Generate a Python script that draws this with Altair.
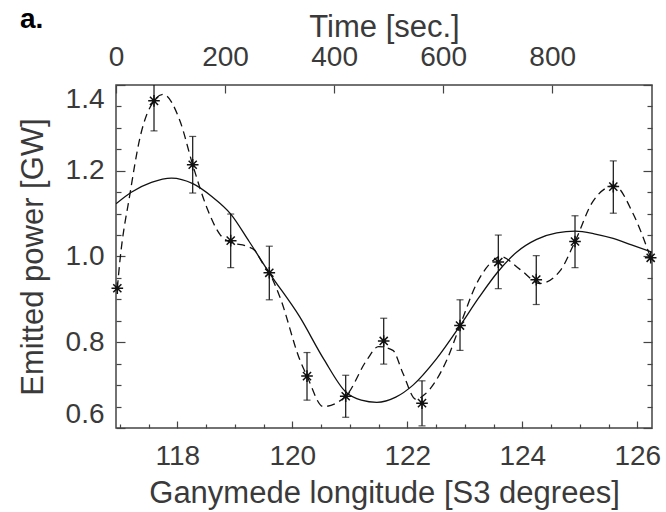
import altair as alt
import pandas as pd

# ---- data ----
pt_lon = [116.957, 117.595, 118.268, 118.929, 119.600, 120.256, 120.929, 121.590,
          122.256, 122.917, 123.583, 124.243, 124.917, 125.583, 126.233]
pt_val = [0.926, 1.363, 1.214, 1.037, 0.962, 0.721, 0.674, 0.803,
          0.658, 0.839, 0.987, 0.946, 1.035, 1.163, 0.997]
err_lo = [None, 1.293, 1.148, 0.974, 0.899, 0.665, 0.625, 0.749,
          0.605, 0.781, 0.925, 0.888, 0.974, 1.101, None]
err_hi = [None, 1.433, 1.280, 1.099, 1.024, 0.776, 0.723, 0.856,
          0.710, 0.899, 1.050, 1.002, 1.095, 1.223, None]

fit_lon = [116.934, 117.20, 117.55, 117.90, 118.27, 118.60, 118.93, 119.25, 119.60,
           120.13, 120.55, 120.93, 121.20, 121.47, 121.80, 122.10, 122.50, 122.92,
           123.25, 123.58, 123.90, 124.25, 124.60, 124.92, 125.25, 125.58, 125.90, 126.256]
fit_val = [1.123, 1.150, 1.173, 1.183, 1.170, 1.140, 1.099, 1.035, 0.962,
           0.859, 0.760, 0.684, 0.665, 0.660, 0.672, 0.700, 0.760, 0.839,
           0.905, 0.965, 1.010, 1.040, 1.055, 1.059, 1.053, 1.042, 1.027, 1.010]

dash_lon = [116.957, 117.003, 117.177, 117.351, 117.595, 117.757, 118.047, 118.268,
            118.511, 118.75, 118.929, 119.207, 119.35, 119.48, 119.600, 119.786,
            120.134, 120.256, 120.539, 120.929, 121.294, 121.50, 121.75, 121.92,
            122.15, 122.30, 122.685, 122.917, 123.207, 123.45, 123.62, 123.96,
            124.31, 124.66, 124.917, 125.235, 125.60, 125.93, 126.233]
dash_val = [0.926, 0.991, 1.146, 1.277, 1.363, 1.378, 1.316, 1.214,
            1.115, 1.050, 1.033, 1.024, 1.014, 0.985, 0.962, 0.905,
            0.758, 0.721, 0.650, 0.674, 0.758, 0.790, 0.781, 0.729,
            0.667, 0.678, 0.758, 0.839, 0.937, 0.985, 1.000, 0.970,
            0.937, 0.967, 1.035, 1.130, 1.165, 1.099, 0.997]

x_major = [118, 120, 122, 124, 126]
x_minor = [117.0, 117.5, 118.5, 119.0, 119.5, 120.5, 121.0, 121.5, 122.5,
           123.0, 123.5, 124.5, 125.0, 125.5]
y_major = [0.6, 0.8, 1.0, 1.2, 1.4]
y_minor = [0.65, 0.7, 0.75, 0.85, 0.9, 0.95, 1.05, 1.1, 1.15, 1.25, 1.3, 1.35]
time_ticks = [0, 200, 400, 600, 800]

X_DOM = [116.934, 126.256]
Y_DOM = [0.6, 1.4]
T_DOM = [0, 983]

W, H = 536, 343
INK = "#111111"
TXT = "#3a3a3a"

xs = alt.Scale(domain=X_DOM, nice=False, zero=False)
ys = alt.Scale(domain=Y_DOM, nice=False, zero=False)
ts = alt.Scale(domain=T_DOM, nice=False, zero=False)

pts = pd.DataFrame({"lon": pt_lon, "val": pt_val})
errs = pd.DataFrame({"lon": pt_lon, "lo": err_lo, "hi": err_hi}).dropna()
fit = pd.DataFrame({"lon": fit_lon, "val": fit_val})
dash = pd.DataFrame({"lon": dash_lon, "val": dash_val})
tdf = pd.DataFrame({"t": time_ticks})


def xenc(field="lon", axis=None):
    return alt.X(f"{field}:Q", scale=xs, axis=axis)


def yenc(field="val", axis=None):
    return alt.Y(f"{field}:Q", scale=ys, axis=axis)


solid = alt.Chart(fit).mark_line(color=INK, strokeWidth=1.3, interpolate="monotone", clip=True).encode(
    x=xenc(), y=yenc())
dashed = alt.Chart(dash).mark_line(color=INK, strokeWidth=1.3, strokeDash=[8, 5],
                                   interpolate="monotone", clip=True).encode(x=xenc(), y=yenc())
bars = alt.Chart(errs).mark_rule(color=INK, strokeWidth=1.2, clip=True).encode(
    x=xenc(), y=yenc("lo"), y2="hi:Q")
cap_lo = alt.Chart(errs).mark_tick(orient="horizontal", size=7, thickness=1.2, color=INK, clip=True).encode(
    x=xenc(), y=yenc("lo"))
cap_hi = alt.Chart(errs).mark_tick(orient="horizontal", size=7, thickness=1.2, color=INK, clip=True).encode(
    x=xenc(), y=yenc("hi"))
STAR = "M-1,0L1,0M0,-1L0,1M-0.7,-0.7L0.7,0.7M-0.7,0.7L0.7,-0.7"
stars = alt.Chart(pts).mark_point(shape=STAR, size=135, filled=False, color=INK, strokeWidth=1.5,
                                  opacity=1).encode(x=xenc(), y=yenc())
dots = alt.Chart(pts).mark_circle(size=14, color=INK, opacity=1).encode(x=xenc(), y=yenc())

ghost = alt.Chart(pts).mark_point(opacity=0)

ax_bottom = ghost.encode(
    x=xenc(axis=alt.Axis(orient="bottom", values=x_major, format="d", tickSize=7, offset=-7,
                         labelPadding=14, labelFlush=False,
                         title="Ganymede longitude [S3 degrees]", titlePadding=8)),
    y=yenc())
ax_bottom_minor = ghost.encode(
    x=xenc(axis=alt.Axis(orient="bottom", values=x_minor, labels=False, tickSize=4, offset=-4,
                         title=None)),
    y=yenc())
ax_left = ghost.encode(
    x=xenc(),
    y=yenc(axis=alt.Axis(orient="left", values=y_major, format=".1f", tickSize=9, offset=-9,
                         labelPadding=12, labelFlush=True, labelFlushOffset=0,
                         title="Emitted power [GW]", titlePadding=16)))
ax_left_minor = ghost.encode(
    x=xenc(),
    y=yenc(axis=alt.Axis(orient="left", values=y_minor, labels=False, tickSize=5, offset=-5,
                         title=None)))
ax_right = ghost.encode(
    x=xenc(),
    y=yenc(axis=alt.Axis(orient="right", values=y_major, labels=False, tickSize=9, offset=-9,
                         title=None)))
ax_right_minor = ghost.encode(
    x=xenc(),
    y=yenc(axis=alt.Axis(orient="right", values=y_minor, labels=False, tickSize=5, offset=-5,
                         title=None)))
ax_top = alt.Chart(tdf).mark_point(opacity=0).encode(
    x=alt.X("t:Q", scale=ts,
            axis=alt.Axis(orient="top", values=time_ticks, format="d", tickSize=8, offset=-8,
                          labelPadding=14, labelFlush=False, title="Time [sec.]", titlePadding=0)))

chart = alt.layer(
    ax_bottom, ax_bottom_minor, ax_left, ax_left_minor, ax_right, ax_right_minor, ax_top,
    solid, dashed, bars, cap_lo, cap_hi, stars, dots,
).resolve_scale(x="independent", y="independent").properties(
    width=W, height=H,
    title=alt.TitleParams("a.", anchor="start", frame="group", fontSize=28, fontWeight="bold",
                          color="#000000", font="Liberation Sans", dx=-96, dy=15, offset=-8),
    padding={"left": 116, "top": 85, "right": 14, "bottom": 84},
    autosize=alt.AutoSizeParams(type="none"),
    background="white",
).configure_axis(
    domain=False, grid=False, labelFont="Liberation Sans", labelFontSize=28, labelColor=TXT,
    titleFont="Liberation Sans", titleFontSize=31, titleFontWeight="normal", titleColor=TXT,
    tickColor="#444444", tickWidth=1.2, labelOverlap=False,
).configure_view(stroke="#444444", strokeWidth=1.5)

chart.save("out.html", embed_options={"renderer": "svg", "actions": False})
